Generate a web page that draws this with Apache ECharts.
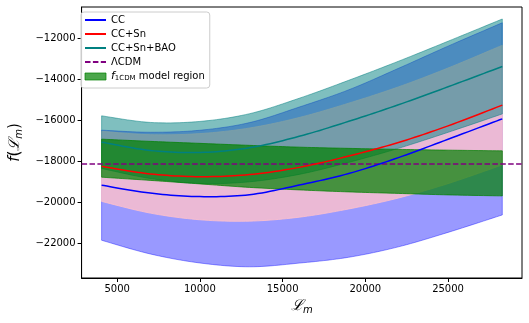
<!DOCTYPE html>
<html><head><meta charset="utf-8">
<script src="https://cdn.jsdelivr.net/npm/echarts@6/dist/echarts.min.js"></script>
<style>html,body{margin:0;padding:0;background:#fff}#c{width:529px;height:323px}</style>
</head><body><div id="c"></div>
<script>
// ---- data ----
const xs = [4060, 7000, 10000, 13000, 16000, 19000, 22000, 25000, 28280];
const ccLine  = [-19172, -19559, -19731, -19637, -19167, -18600, -17820, -16922, -15922];
const ccUpper = [-16476, -16579, -16481, -16107, -15347, -14500, -13450, -12362, -11216];
const ccLower = [-21868, -22539, -22981, -23167, -22987, -22700, -22190, -21482, -20628];
const snLine  = [-18250, -18618, -18755, -18652, -18299, -17745, -17079, -16265, -15250];
const snUpper = [-16534, -16698, -16645, -16372, -15859, -15155, -14359, -13435, -12320];
const snLower = [-19966, -20538, -20865, -20932, -20739, -20335, -19799, -19095, -18180];
const baoLine  = [-17064, -17471, -17569, -17338, -16779, -16044, -15235, -14353, -13358];
const baoUpper = [-15775, -16098, -16049, -15671, -14916, -14034, -13103, -12123, -11034];
const baoLower = [-18353, -18844, -19089, -19005, -18642, -18054, -17367, -16583, -15682];
const f1Upper = [-16917, -17025, -17123, -17221, -17309, -17368, -17417, -17456, -17490];
const f1Lower = [-18780, -18936, -19108, -19280, -19402, -19500, -19574, -19647, -19696];
const lcdmValue = -18110;
const xTicks = [5000, 10000, 15000, 20000, 25000];
const yTicks = [-22000, -20000, -18000, -16000, -14000, -12000];
const names = ['CC', 'CC+Sn', 'CC+Sn+BAO', 'ΛCDM', 'f1CDM model region'];

// Catmull-Rom sampling of already-projected pixel points (drawing only)
function spline(p) {
  const out = [], n = p.length, steps = 12;
  for (let i = 0; i < n - 1; i++) {
    const p0 = p[Math.max(i - 1, 0)], p1 = p[i], p2 = p[i + 1], p3 = p[Math.min(i + 2, n - 1)];
    for (let s = 0; s < steps; s++) {
      const t = s / steps, t2 = t * t, t3 = t2 * t;
      const f = (a, b, c, d) => 0.5 * ((2 * b) + (-a + c) * t + (2 * a - 5 * b + 4 * c - d) * t2 + (-a + 3 * b - 3 * c + d) * t3);
      out.push([f(p0[0], p1[0], p2[0], p3[0]), f(p0[1], p1[1], p2[1], p3[1])]);
    }
  }
  out.push(p[n - 1].slice());
  return out;
}

function band(name, lo, up, color, alpha) {
  return {
    type: 'custom', name: name, silent: true, clip: true,
    data: xs.map((x, i) => [x, lo[i], up[i]]),
    encode: { x: 0, y: [1, 2] },
    itemStyle: { color: color },
    renderItem: function (params, api) {
      if (params.dataIndexInside !== 0) return null;
      const n = params.dataInsideLength, U = [], L = [];
      for (let i = 0; i < n; i++) {
        U.push(api.coord([api.value(0, i), api.value(2, i)]));
        L.push(api.coord([api.value(0, i), api.value(1, i)]));
      }
      const pts = spline(U).concat(spline(L).reverse());
      return { type: 'polygon', shape: { points: pts },
        style: { fill: color, stroke: color, lineWidth: 1, opacity: alpha } };
    }
  };
}
function centerLine(name, ys, color) {
  return {
    type: 'custom', name: name, silent: true, clip: true, z: 5,
    data: xs.map((x, i) => [x, ys[i]]),
    encode: { x: 0, y: 1 },
    itemStyle: { color: color },
    renderItem: function (params, api) {
      if (params.dataIndexInside !== 0) return null;
      const n = params.dataInsideLength, P = [];
      for (let i = 0; i < n; i++) P.push(api.coord([api.value(0, i), api.value(1, i)]));
      return { type: 'polyline', shape: { points: spline(P) },
        style: { fill: null, stroke: color, lineWidth: 1.5 } };
    }
  };
}
// legend-only handles for the line entries (no data)
function handle(name, color, dash) {
  return { name: name, type: 'line', data: [], symbol: 'none',
    itemStyle: { color: color }, lineStyle: { color: color, width: 1.5, type: dash || 'solid' } };
}
const dash = [5.5, 2.4];
const series = [
  band('cc_band', ccLower, ccUpper, '#0000ff', 0.4),
  band('sn_band', snLower, snUpper, '#ffc0cb', 0.8),
  band('bao_band', baoLower, baoUpper, '#008080', 0.5),
  band(names[4], f1Lower, f1Upper, '#008000', 0.7),
  centerLine('cc_line', ccLine, '#0000ff'),
  centerLine('sn_line', snLine, '#ff0000'),
  centerLine('bao_line', baoLine, '#008080'),
  handle(names[0], '#0000ff'),
  handle(names[1], '#ff0000'),
  handle(names[2], '#008080'),
  { name: names[3], type: 'line', data: [], symbol: 'none', z: 6,
    itemStyle: { color: '#800080' },
    lineStyle: { color: '#800080', width: 1.5, type: dash },
    markLine: { symbol: 'none', silent: true, label: { show: false },
      lineStyle: { color: '#800080', width: 1.5, type: dash },
      data: [{ yAxis: lcdmValue }] } }
];

const minus = (v) => String(v).replace('-', '\u2212');
const chart = echarts.init(document.getElementById('c'), null, { renderer: 'canvas' });
chart.setOption({
  animation: false,
  textStyle: { fontFamily: 'DejaVu Sans' },
  grid: { left: 76, right: 7, top: 7, bottom: 45, show: true, borderColor: '#000', borderWidth: 1 },
  xAxis: {
    type: 'value', min: 2850, max: 29470,
    name: '{s|ℒ}{sub|m}', nameLocation: 'middle', nameGap: 15,
    nameTextStyle: { color: '#000', rich: {
      s: { fontFamily: 'DejaVu Serif', fontStyle: 'italic', fontSize: 15, color: '#000' },
      sub: { fontFamily: 'DejaVu Sans', fontStyle: 'italic', fontSize: 10, color: '#000', padding: [8, 0, 0, 0] } } },
    axisLine: { lineStyle: { color: '#000', width: 1 } },
    axisTick: { length: 4, lineStyle: { color: '#000' }, customValues: xTicks },
    axisLabel: { color: '#000', fontSize: 10, margin: 6, customValues: xTicks, formatter: minus },
    splitLine: { show: false }
  },
  yAxis: {
    type: 'value', min: -23716, max: -10446,
    name: '{i|f}{n|(}{s|ℒ}{sub|m}{n|)}', nameLocation: 'middle', nameGap: 52, nameRotate: 90,
    nameTextStyle: { color: '#000', rich: {
      i: { fontFamily: 'DejaVu Sans', fontStyle: 'italic', fontSize: 15, color: '#000' },
      n: { fontFamily: 'DejaVu Sans', fontSize: 15, color: '#000' },
      s: { fontFamily: 'DejaVu Serif', fontStyle: 'italic', fontSize: 15, color: '#000' },
      sub: { fontFamily: 'DejaVu Sans', fontStyle: 'italic', fontSize: 10, color: '#000', padding: [8, 0, 0, 0] } } },
    axisLine: { show: true, lineStyle: { color: '#000', width: 1 } },
    axisTick: { show: true, length: 4, lineStyle: { color: '#000' }, customValues: yTicks },
    axisLabel: { color: '#000', fontSize: 10, margin: 6, customValues: yTicks, formatter: minus },
    splitLine: { show: false }
  },
  legend: {
    orient: 'vertical', left: 81, top: 12, itemWidth: 21, itemHeight: 7, itemGap: 4,
    padding: [3, 5, 6, 3], borderColor: '#cccccc', borderWidth: 1, borderRadius: 3,
    backgroundColor: 'rgba(255,255,255,0.8)',
    itemStyle: { opacity: 0 },
    textStyle: { fontFamily: 'DejaVu Sans', fontSize: 10, color: '#000',
      rich: { i: { fontFamily: 'DejaVu Sans', fontStyle: 'italic', fontSize: 11, color: '#000' },
              sub: { fontFamily: 'DejaVu Sans', fontSize: 7, color: '#000', padding: [4, 0, 0, 0] },
              t: { fontFamily: 'DejaVu Sans', fontSize: 10, color: '#000' } } },
    formatter: (n) => n === names[4] ? '{i|f}{sub|1CDM}{t| model region}' : n,
    data: [
      { name: names[0] }, { name: names[1] }, { name: names[2] }, { name: names[3] },
      { name: names[4], icon: 'rect', itemStyle: { opacity: 1, color: 'rgba(0,128,0,0.7)', borderColor: 'rgba(0,128,0,0.7)', borderWidth: 1 } }
    ]
  },
  series: series
});
</script></body></html>
